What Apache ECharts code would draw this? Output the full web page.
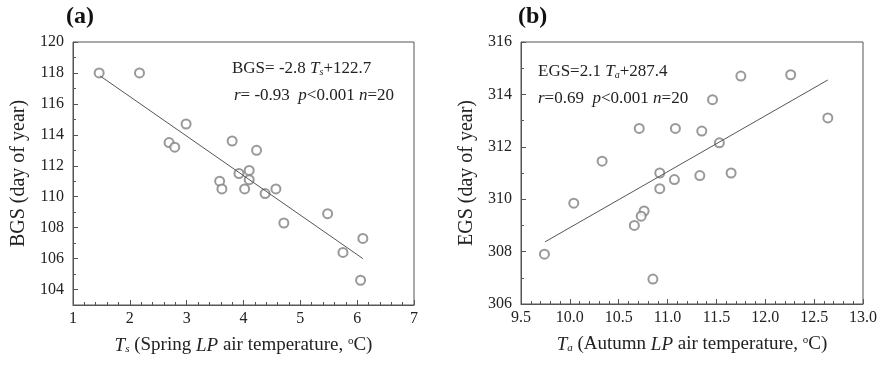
<!DOCTYPE html>
<html>
<head>
<meta charset="utf-8">
<script src="https://cdn.jsdelivr.net/npm/echarts@6/dist/echarts.min.js"></script>
<style>
  html, body { margin: 0; padding: 0; background: #fff; }
  #chart { width: 883px; height: 371px; }
</style>
</head>
<body>
<div id="chart"></div>
<script>
// panel (a): spring temperature vs BGS
const tsValues = [1.46, 2.17, 2.99, 2.69, 2.79, 3.80, 4.23, 3.92, 4.10, 4.10, 3.58, 3.62, 4.02, 4.38, 4.57, 4.71, 5.48, 5.75, 6.10, 6.06];
const bgsValues = [118.0, 118.0, 114.7, 113.5, 113.2, 113.6, 113.0, 111.5, 111.7, 111.1, 111.0, 110.5, 110.5, 110.2, 110.5, 108.3, 108.9, 106.4, 107.3, 104.6];
const bgsFitX = [1.48, 6.10];
const bgsFitY = [117.8, 106.0];

// panel (b): autumn temperature vs EGS
const taValues = [11.75, 12.26, 11.46, 12.64, 10.71, 11.08, 11.35, 11.53, 10.33, 10.92, 11.65, 11.07, 11.33, 10.92, 10.04, 10.76, 10.73, 10.66, 9.74, 10.85];
const egsValues = [314.7, 314.75, 313.8, 313.1, 312.7, 312.7, 312.6, 312.15, 311.45, 311.0, 311.0, 310.75, 310.9, 310.4, 309.85, 309.55, 309.35, 309.0, 307.9, 306.95];
const egsFitX = [9.745, 12.64];
const egsFitY = [308.37, 314.55];

const FONT = 'Liberation Serif';
const AXIS_COLOR = '#555';
const TEXT_COLOR = '#222';

const pairs = (xs, ys) => xs.map((x, i) => [x, ys[i]]);

const chart = echarts.init(document.getElementById('chart'));

const nameRich = {
  it: { fontStyle: 'italic', fontFamily: FONT, fontSize: 19, color: TEXT_COLOR, verticalAlign: 'middle' },
  sub: { fontStyle: 'italic', fontFamily: FONT, fontSize: 11, color: TEXT_COLOR, verticalAlign: 'bottom' },
  sup: { fontFamily: FONT, fontSize: 11, color: TEXT_COLOR, verticalAlign: 'top' },
  n: { fontFamily: FONT, fontSize: 19, color: TEXT_COLOR, verticalAlign: 'middle' }
};

const xAxisBase = {
  type: 'value',
  nameLocation: 'middle',
  nameGap: 31,
  axisLine: { lineStyle: { color: AXIS_COLOR, width: 1 } },
  axisTick: { inside: true, length: 5, lineStyle: { color: AXIS_COLOR } },
  minorTick: { show: true, splitNumber: 5, length: 3, lineStyle: { color: AXIS_COLOR } },
  axisLabel: { fontFamily: FONT, fontSize: 16, color: TEXT_COLOR, margin: 6 },
  splitLine: { show: false }
};

const yAxisBase = {
  type: 'value',
  nameLocation: 'middle',
  nameGap: 44,
  nameTextStyle: { fontFamily: FONT, fontSize: 20, color: TEXT_COLOR },
  axisLine: { show: true, lineStyle: { color: AXIS_COLOR, width: 1 } },
  axisTick: { inside: true, length: 5, lineStyle: { color: AXIS_COLOR } },
  minorTick: { show: true, splitNumber: 2, length: 3, lineStyle: { color: AXIS_COLOR } },
  axisLabel: { fontFamily: FONT, fontSize: 16, color: TEXT_COLOR, margin: 9 },
  splitLine: { show: false }
};

const scatterStyle = {
  type: 'scatter',
  symbol: 'emptyCircle',
  symbolSize: 9,
  itemStyle: { color: '#808080', borderWidth: 1 },
  silent: true
};

const fitStyle = {
  type: 'line',
  showSymbol: false,
  lineStyle: { color: '#555', width: 1 },
  silent: true
};

const eqRich = {
  n: { fontFamily: FONT, fontSize: 17, fill: TEXT_COLOR },
  it: { fontFamily: FONT, fontSize: 17, fontStyle: 'italic', fill: TEXT_COLOR },
  sub: { fontFamily: FONT, fontSize: 10, fontStyle: 'italic', fill: TEXT_COLOR, verticalAlign: 'bottom' }
};

chart.setOption({
  animation: false,
  grid: [
    { left: 73, top: 42, width: 341, height: 263, show: true, borderColor: AXIS_COLOR, borderWidth: 1 },
    { left: 521, top: 42, width: 342, height: 262, show: true, borderColor: AXIS_COLOR, borderWidth: 1 }
  ],
  xAxis: [
    Object.assign({}, xAxisBase, {
      gridIndex: 0, min: 1, max: 7, interval: 1,
      name: '{it|T}{sub|s}{n| (Spring }{it|LP}{n| air temperature, }{sup|o}{n|C)}',
      nameTextStyle: { rich: nameRich }
    }),
    Object.assign({}, xAxisBase, {
      gridIndex: 1, min: 9.5, max: 13, interval: 0.5,
      axisLabel: Object.assign({}, xAxisBase.axisLabel, { formatter: v => v.toFixed(1) }),
      name: '{it|T}{sub|a}{n| (Autumn }{it|LP}{n| air temperature, }{sup|o}{n|C)}',
      nameTextStyle: { rich: nameRich }
    })
  ],
  yAxis: [
    Object.assign({}, yAxisBase, {
      gridIndex: 0, min: 103, max: 120, splitNumber: 8,
      name: 'BGS (day of year)'
    }),
    Object.assign({}, yAxisBase, {
      gridIndex: 1, min: 306, max: 316, interval: 2,
      name: 'EGS (day of year)'
    })
  ],
  series: [
    Object.assign({}, scatterStyle, { xAxisIndex: 0, yAxisIndex: 0, data: pairs(tsValues, bgsValues) }),
    Object.assign({}, fitStyle, { xAxisIndex: 0, yAxisIndex: 0, data: pairs(bgsFitX, bgsFitY) }),
    Object.assign({}, scatterStyle, { xAxisIndex: 1, yAxisIndex: 1, data: pairs(taValues, egsValues) }),
    Object.assign({}, fitStyle, { xAxisIndex: 1, yAxisIndex: 1, data: pairs(egsFitX, egsFitY) })
  ],
  graphic: [
    { type: 'text', left: 66, top: 5, style: { text: '(a)', font: 'bold 24px "Liberation Serif"', fill: '#111' } },
    { type: 'text', left: 518, top: 5, style: { text: '(b)', font: 'bold 24px "Liberation Serif"', fill: '#111' } },
    { type: 'text', left: 232, top: 60, style: { text: '{n|BGS= -2.8 }{it|T}{sub|s}{n|+122.7}', rich: eqRich } },
    { type: 'text', left: 234, top: 87, style: { text: '{it|r}{n|= -0.93  }{it|p}{n|<0.001 }{it|n}{n|=20}', rich: eqRich } },
    { type: 'text', left: 538, top: 63, style: { text: '{n|EGS=2.1 }{it|T}{sub|a}{n|+287.4}', rich: eqRich } },
    { type: 'text', left: 538, top: 90, style: { text: '{it|r}{n|=0.69  }{it|p}{n|<0.001 }{it|n}{n|=20}', rich: eqRich } }
  ]
});
</script>
</body>
</html>
